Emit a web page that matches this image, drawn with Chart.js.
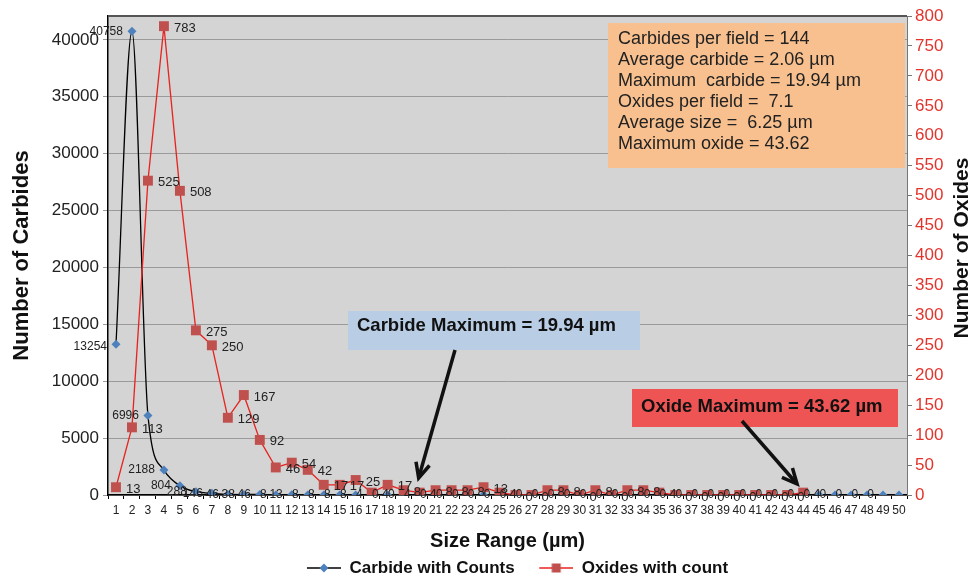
<!DOCTYPE html>
<html>
<head>
<meta charset="utf-8">
<script src="https://cdn.jsdelivr.net/npm/chart.js@4.4.0/dist/chart.umd.min.js"></script>
<style>
  html, body { margin: 0; padding: 0; background: #fff; }
  #wrap { width: 976px; height: 582px; }
</style>
</head>
<body>
<div id="wrap"><canvas id="myChart" width="976" height="582"></canvas></div>
<script>
const FONT = "'Liberation Sans', Arial, Helvetica, sans-serif";

// size classes (µm)
const sizeRanges = ["1","2","3","4","5","6","7","8","9","10","11","12","13","14","15","16","17","18","19","20",
  "21","22","23","24","25","26","27","28","29","30","31","32","33","34","35","36","37","38","39","40",
  "41","42","43","44","45","46","47","48","49","50"];

const carbideCounts = [13254, 40758, 6996, 2188, 804, 288, 146, 46, 38, 46,
  8, 13, 8, 8, 8, 8, 4, 0, 0, 4,
  0, 0, 0, 0, 0, 0, 0, 0, 0, 0,
  0, 0, 0, 0, 0, 0, 0, 0, 0, 0,
  0, 0, 0, 0, 0, 0, 0, 0, 0, 0];

const oxideCounts = [13, 113, 525, 783, 508, 275, 250, 129, 167, 92,
  46, 54, 42, 17, 17, 25, 4, 17, 8, 4,
  8, 8, 8, 13, 4, 0, 0, 8, 8, 0,
  8, 0, 8, 8, 4, 0, 0, 0, 0, 0,
  0, 0, 0, 4, null, null, null, null, null, null];

const carbideTicks = [0, 5000, 10000, 15000, 20000, 25000, 30000, 35000, 40000];

const summaryLines = [
  "Carbides per field = 144",
  "Average carbide = 2.06 µm",
  "Maximum  carbide = 19.94 µm",
  "Oxides per field =  7.1",
  "Average size =  6.25 µm",
  "Maximum oxide = 43.62"
];
const carbideMax = 19.94;
const oxideMax = 43.62;

// legend markers: line with point in the middle (20px blank on the left as spacing)
function legendIcon(lineColor, fill, shape) {
  const c = document.createElement("canvas");
  c.width = 54; c.height = 12;
  const g = c.getContext("2d");
  g.strokeStyle = lineColor; g.lineWidth = 1.5;
  g.beginPath(); g.moveTo(20, 6); g.lineTo(54, 6); g.stroke();
  g.fillStyle = fill;
  if (shape === "diamond") {
    g.beginPath(); g.moveTo(37, 1.5); g.lineTo(41.5, 6); g.lineTo(37, 10.5); g.lineTo(32.5, 6); g.closePath(); g.fill();
  } else {
    g.fillRect(32.5, 1.5, 9, 9);
  }
  return c;
}

function drawArrow(ctx, x0, y0, x1, y1) {
  const a = Math.atan2(y1 - y0, x1 - x0);
  const head = 15, half = 7;
  const bx = x1 - head * Math.cos(a), by = y1 - head * Math.sin(a);
  ctx.save();
  ctx.strokeStyle = "#111"; ctx.lineWidth = 3.5;
  ctx.beginPath(); ctx.moveTo(x0, y0); ctx.lineTo(x1 - 2 * Math.cos(a), y1 - 2 * Math.sin(a)); ctx.stroke();
  ctx.beginPath();
  ctx.moveTo(bx + half * Math.sin(a), by - half * Math.cos(a));
  ctx.lineTo(x1, y1);
  ctx.lineTo(bx - half * Math.sin(a), by + half * Math.cos(a));
  ctx.stroke();
  ctx.restore();
}

const decorations = {
  id: "decorations",
  beforeLayout(chart) {
    const lg = chart.legend;
    if (lg && !lg._tight) {
      const fit = lg.fit;
      lg.fit = function () { fit.call(this); this.height = 27; };
      lg._tight = true;
    }
  },
  beforeDraw(chart) {
    const { ctx, chartArea: a } = chart;
    ctx.save();
    ctx.fillStyle = "#d3d4d3";
    ctx.fillRect(a.left, a.top, a.right - a.left, a.bottom - a.top);
    ctx.restore();
  },
  afterDatasetsDraw(chart) {
    const { ctx, chartArea: a } = chart;
    const xs = chart.scales.x;

    // data labels
    ctx.save();
    ctx.fillStyle = "#222";
    ctx.textBaseline = "middle";
    ctx.font = "12px " + FONT;
    ctx.textAlign = "right";
    chart.getDatasetMeta(0).data.forEach((pt, i) => {
      const v = carbideCounts[i];
      if (v === null || i === 49) return;
      ctx.fillText(String(v), pt.x - 9, pt.y + (i === 0 ? 2 : 0));
    });
    ctx.font = "13px " + FONT;
    ctx.textAlign = "left";
    chart.getDatasetMeta(1).data.forEach((pt, i) => {
      const v = oxideCounts[i];
      if (v === null) return;
      ctx.fillText(String(v), pt.x + 10, pt.y + 2);
    });
    ctx.restore();

    // top frame
    ctx.save();
    ctx.strokeStyle = "#555"; ctx.lineWidth = 2;
    ctx.beginPath(); ctx.moveTo(a.left, a.top); ctx.lineTo(a.right, a.top); ctx.stroke();
    ctx.restore();

    // summary box
    ctx.save();
    ctx.fillStyle = "#f8c08f";
    ctx.fillRect(608, 23, 297, 145);
    ctx.fillStyle = "#222";
    ctx.font = "18px " + FONT;
    ctx.textBaseline = "middle";
    summaryLines.forEach((t, i) => ctx.fillText(t, 618, 39 + i * 21));

    // maximum callouts
    ctx.fillStyle = "#b9cde5";
    ctx.fillRect(348, 311, 292, 39);
    ctx.fillStyle = "#ee5454";
    ctx.fillRect(632, 389, 266, 38);
    ctx.fillStyle = "#111";
    ctx.font = "bold 18.5px " + FONT;
    ctx.fillText("Carbide Maximum = 19.94 µm", 357, 326);
    ctx.fillText("Oxide Maximum = 43.62 µm", 641, 407);
    ctx.restore();

    const step = xs.getPixelForValue(1) - xs.getPixelForValue(0);
    const px = v => xs.getPixelForValue(0) + (v - 1) * step;
    drawArrow(ctx, 455, 350, px(carbideMax), a.bottom - 17);
    drawArrow(ctx, 742, 421, px(oxideMax), a.bottom - 11);

    // right axis title (reads bottom to top)
    ctx.save();
    ctx.translate(962, 248);
    ctx.rotate(-Math.PI / 2);
    ctx.font = "bold 21px " + FONT;
    ctx.fillStyle = "#111";
    ctx.textAlign = "center"; ctx.textBaseline = "middle";
    ctx.fillText("Number of Oxides", 0, 0);
    ctx.restore();
  }
};

const data = {
  labels: sizeRanges,
  datasets: [
    {
      label: "Carbide with Counts",
      data: carbideCounts,
      yAxisID: "y",
      borderColor: "#000",
      borderWidth: 1.3,
      backgroundColor: "#4f81bd",
      pointBackgroundColor: "#4f81bd",
      pointBorderWidth: 0,
      pointStyle: "rectRot",
      pointRadius: 4.5,
      cubicInterpolationMode: "monotone",
      order: 1
    },
    {
      label: "Oxides with count",
      data: oxideCounts,
      yAxisID: "y1",
      borderColor: "#e8231f",
      borderWidth: 1.3,
      backgroundColor: "#c0504d",
      pointBackgroundColor: "#c0504d",
      pointBorderWidth: 0,
      pointStyle: "rect",
      pointRadius: 7,
      tension: 0,
      order: 0
    }
  ]
};

const icons = [legendIcon("#000", "#4f81bd", "diamond"), legendIcon("#e8231f", "#c0504d", "square")];

const config = {
  type: "line",
  data: data,
  plugins: [decorations],
  options: {
    responsive: false,
    animation: false,
    layout: { padding: { top: 16, right: 0, bottom: 0, left: 0 } },
    plugins: {
      tooltip: { enabled: false },
      legend: {
        position: "bottom",
        fullSize: false,
        labels: {
          usePointStyle: true,
          pointStyleWidth: 54,
          padding: 4.5,
          color: "#111",
          font: { family: FONT, size: 17, weight: "bold" },
          generateLabels: chart => chart.data.datasets.map((ds, i) => ({
            text: ds.label, pointStyle: icons[i], datasetIndex: i,
            fillStyle: "transparent", strokeStyle: "transparent", lineWidth: 0, fontColor: "#111"
          }))
        }
      }
    },
    scales: {
      x: {
        type: "category",
        offset: true,
        grid: { display: true, drawOnChartArea: false, drawTicks: true, tickLength: 4, color: "#000", offset: true },
        border: { color: "#000", width: 1.5 },
        ticks: { autoSkip: false, maxRotation: 0, minRotation: 0, padding: 4, color: "#222", font: { family: FONT, size: 12 } },
        title: { display: true, text: "Size Range (µm)", color: "#111", font: { family: FONT, size: 20, weight: "bold" }, padding: { top: 0, bottom: 2 } },
        afterFit: s => { s.height = 60; }
      },
      y: {
        position: "left",
        min: 0,
        max: 42100,
        grid: { color: "#9a9a9a", tickLength: 5 },
        border: { color: "#000", width: 1.5 },
        ticks: { padding: 4, color: "#222", font: { family: FONT, size: 17 }, callback: v => String(v) },
        afterBuildTicks: s => { s.ticks = carbideTicks.map(v => ({ value: v })); },
        title: { display: true, text: "Number of Carbides", color: "#111", font: { family: FONT, size: 22, weight: "bold" }, padding: { top: 9, bottom: 0 } },
        afterFit: s => { s.width = 108; }
      },
      y1: {
        position: "right",
        min: 0,
        max: 800,
        grid: { drawOnChartArea: false, tickLength: 5, color: "#777" },
        border: { color: "#777", width: 1 },
        ticks: { stepSize: 50, padding: 3, color: "#e3342b", font: { family: FONT, size: 17 } },
        afterFit: s => { s.width = 69; }
      }
    }
  }
};

new Chart(document.getElementById("myChart"), config);
</script>
</body>
</html>
